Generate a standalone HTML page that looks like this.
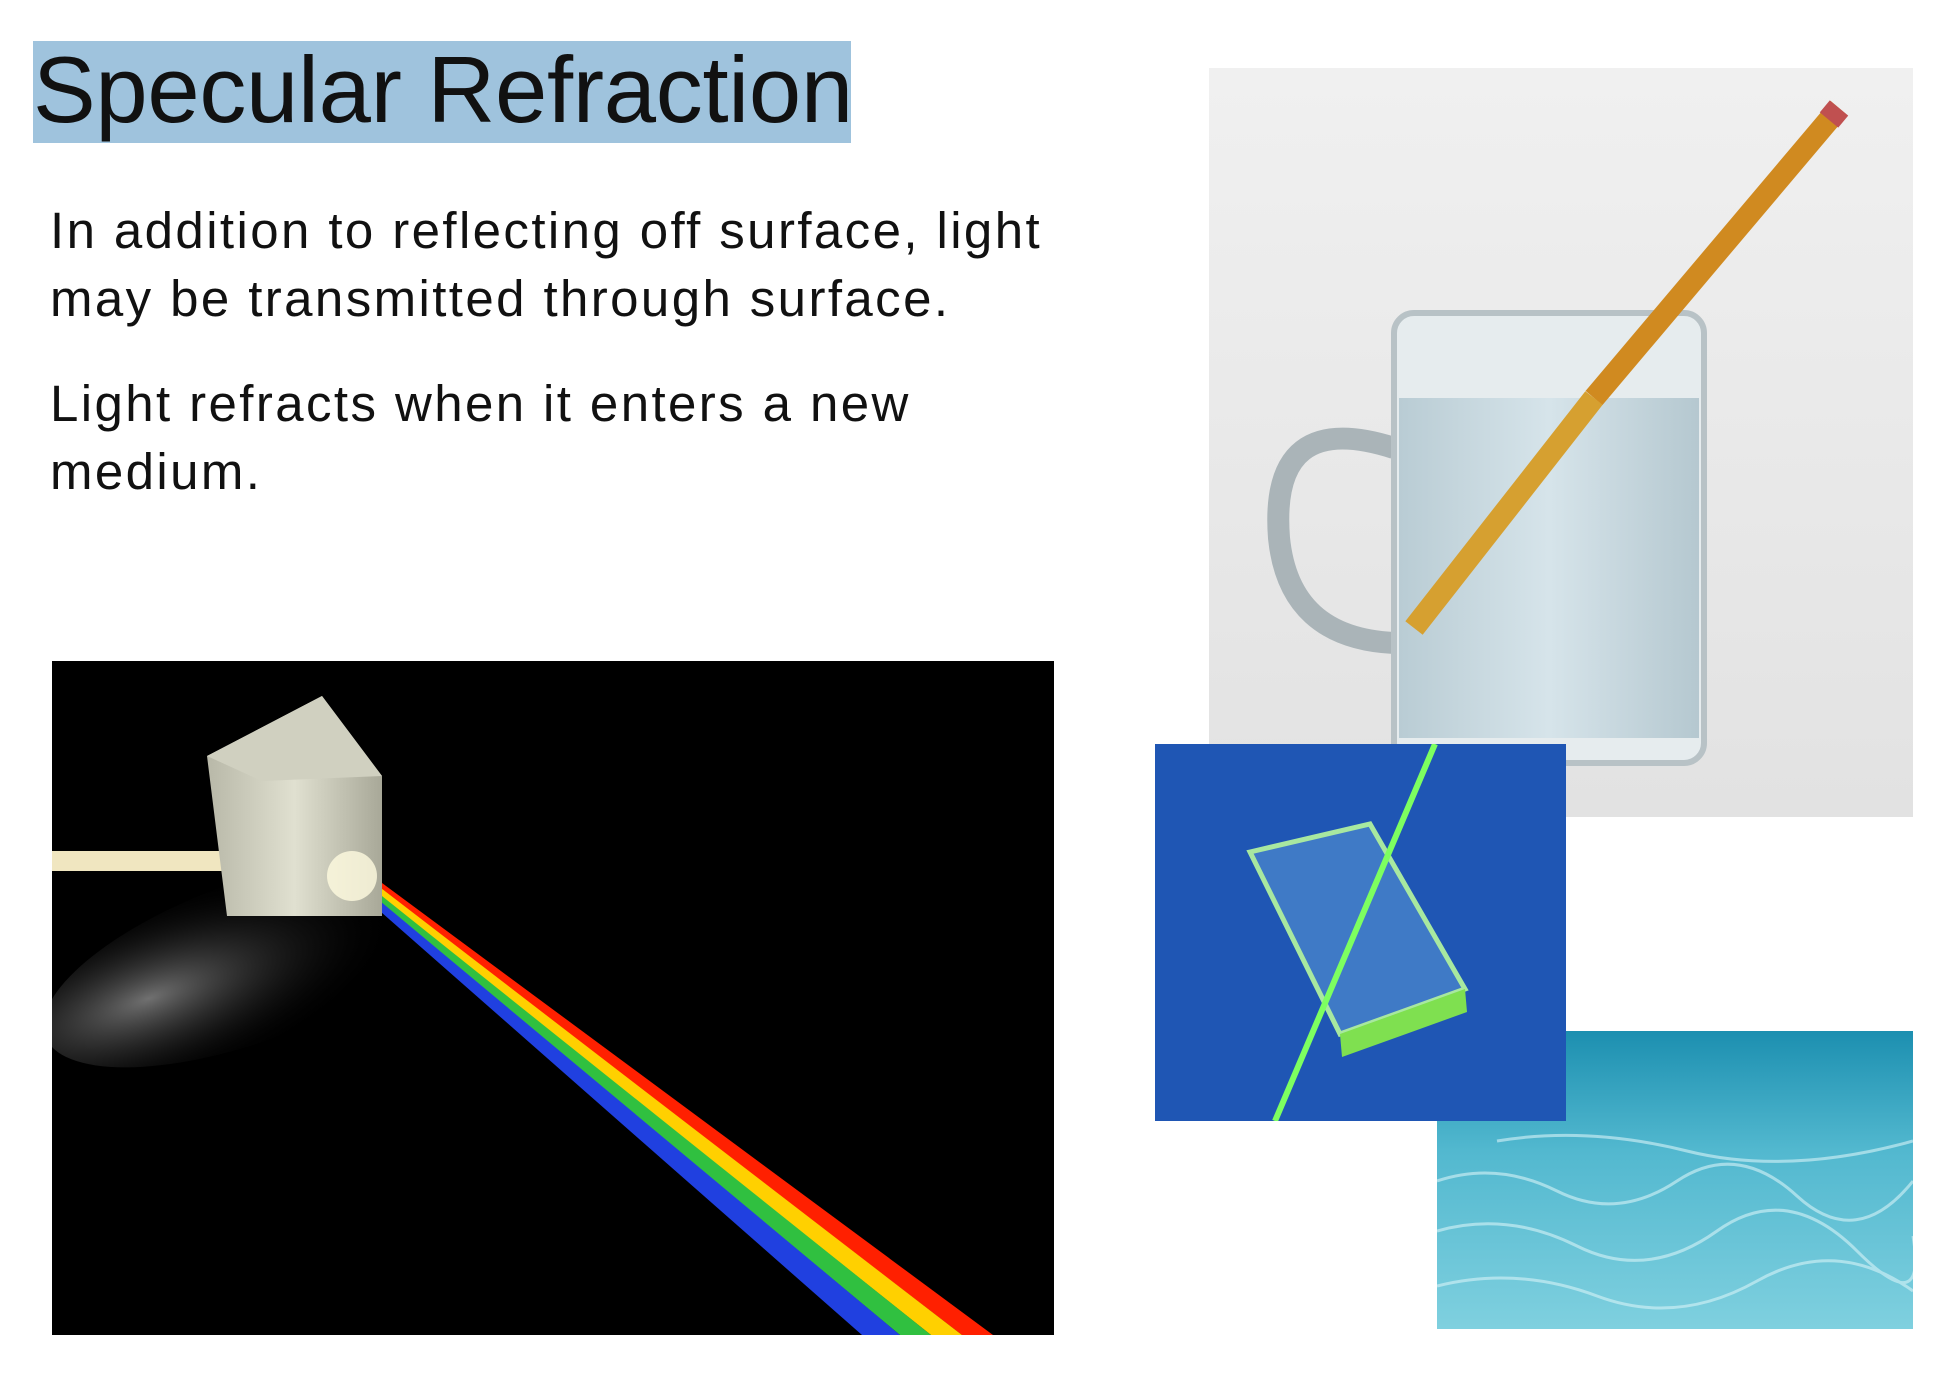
<!DOCTYPE html>
<html><head><meta charset="utf-8">
<style>
html,body{margin:0;padding:0;background:#fff;}
body{width:1947px;height:1375px;position:relative;overflow:hidden;font-family:"Liberation Sans",sans-serif;}
.title{position:absolute;left:33px;top:41px;width:818px;height:102px;background:#9fc3dd;}
.title span{position:absolute;left:0;top:-2px;font-size:94px;line-height:102px;color:#111;white-space:nowrap;letter-spacing:-0.3px;}
.body{position:absolute;left:50px;font-size:51px;color:#111;line-height:68px;white-space:nowrap;letter-spacing:2.4px;}
.img{position:absolute;overflow:hidden;}
</style></head><body>
<div class="title"><span>Specular Refraction</span></div>
<div class="body" style="top:197px">In addition to reflecting off surface, light<br>may be transmitted through surface.</div>
<div class="body" style="top:370px">Light refracts when it enters a new<br>medium.</div>

<svg class="img" style="left:1209px;top:68px" width="704" height="749">
<defs><linearGradient id="bg1" x1="0" y1="0" x2="0" y2="1"><stop offset="0" stop-color="#f0f0f0"/><stop offset="1" stop-color="#e2e2e2"/></linearGradient>
<linearGradient id="wat" x1="0" y1="0" x2="1" y2="0"><stop offset="0" stop-color="#b9ccd4"/><stop offset=".5" stop-color="#d6e4ea"/><stop offset="1" stop-color="#b5c8d0"/></linearGradient></defs>
<rect width="704" height="749" fill="url(#bg1)"/>
<path d="M185 380 Q60 340 70 470 Q80 570 185 575" fill="none" stroke="#aab4b8" stroke-width="22"/>
<rect x="185" y="245" width="310" height="450" rx="20" fill="#e6ecee" stroke="#b8c2c6" stroke-width="6"/>
<rect x="190" y="330" width="300" height="340" fill="url(#wat)"/>
<line x1="630" y1="40" x2="385" y2="330" stroke="#d08a20" stroke-width="22"/>
<line x1="385" y1="330" x2="205" y2="560" stroke="#d6a030" stroke-width="22"/>
<line x1="630" y1="40" x2="620" y2="52" stroke="#c05050" stroke-width="24"/>
</svg>

<svg class="img" style="left:1437px;top:1031px" width="476" height="298">
<defs><linearGradient id="sea" x1="0" y1="0" x2="0" y2="1"><stop offset="0" stop-color="#1c8fb0"/><stop offset=".4" stop-color="#52b8cf"/><stop offset="1" stop-color="#7fd0df"/></linearGradient></defs>
<rect width="476" height="298" fill="url(#sea)"/>
<g fill="none" stroke="#d8f4f8" stroke-width="3" opacity=".6">
<path d="M0 150 Q60 130 120 160 T240 150 T360 165 T476 150"/>
<path d="M0 200 Q70 180 140 215 T280 200 T420 220 T476 205"/>
<path d="M0 255 Q80 235 160 265 T320 250 T476 260"/>
<path d="M60 110 Q150 95 250 120 T476 110"/>
</g></svg>

<svg class="img" style="left:1155px;top:744px" width="411" height="377">
<rect width="411" height="377" fill="#1f56b4"/>
<polygon points="95,108 215,80 310,245 185,290" fill="#3f7ac6" stroke="#a8e8a0" stroke-width="5"/>
<polygon points="185,290 310,245 312,268 187,313" fill="#7fe050"/>
<line x1="280" y1="0" x2="120" y2="377" stroke="#7dff60" stroke-width="6"/>
</svg>

<svg class="img" style="left:52px;top:661px" width="1002" height="674">
<defs><radialGradient id="glow" cx=".25" cy=".5" r=".6"><stop offset="0" stop-color="#bbb" stop-opacity=".6"/><stop offset="1" stop-color="#000" stop-opacity="0"/></radialGradient>
<linearGradient id="prism" x1="0" y1="0" x2="1" y2="0"><stop offset="0" stop-color="#b8b8a8"/><stop offset=".5" stop-color="#e0e0d0"/><stop offset="1" stop-color="#a8a898"/></linearGradient></defs>
<rect width="1002" height="674" fill="#000"/>
<ellipse cx="200" cy="300" rx="220" ry="80" fill="url(#glow)" transform="rotate(-20 200 300)"/>
<rect x="0" y="190" width="170" height="20" fill="#f0e6c0"/>
<polygon points="330,222 941,674 910,674 325,226" fill="#ff2000"/>
<polygon points="325,224 910,674 879,674 320,229" fill="#ffd000"/>
<polygon points="320,227 879,674 848,674 316,232" fill="#30c040"/>
<polygon points="316,230 848,674 810,674 312,236" fill="#2040e0"/>
<polygon points="155,95 270,35 330,115 330,255 175,255" fill="url(#prism)"/>
<polygon points="155,95 270,35 330,115 210,120" fill="#d0d0c0"/>
<circle cx="300" cy="215" r="25" fill="#fffbe0" opacity=".8"/>
</svg>
</body></html>
